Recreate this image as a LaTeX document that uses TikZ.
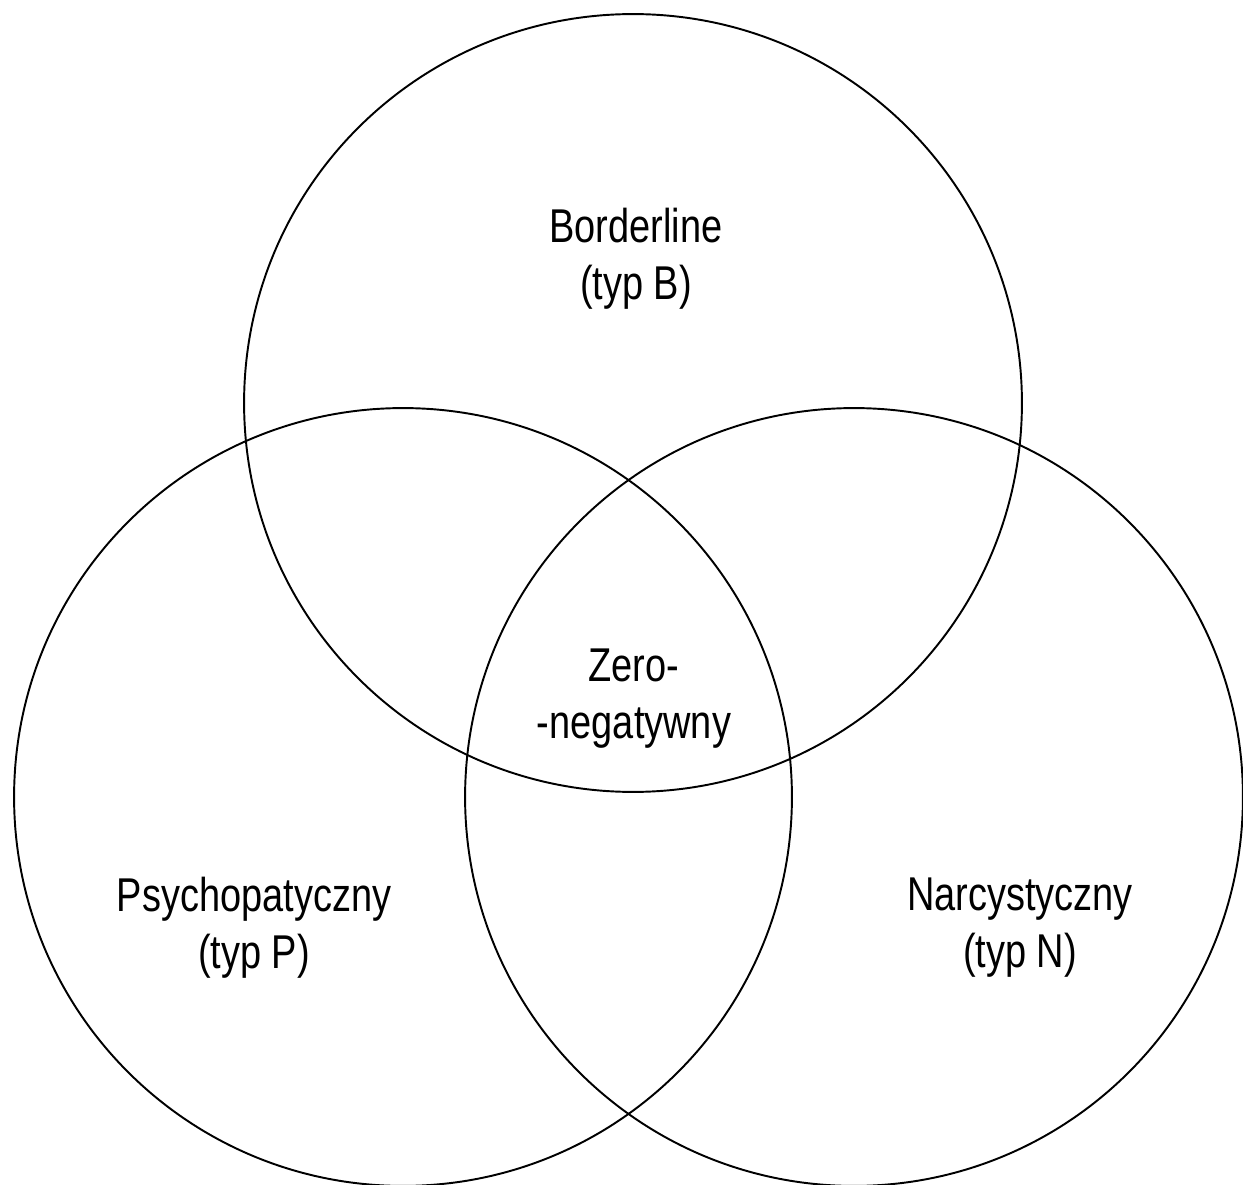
\documentclass[tikz,border=0pt]{standalone}
\usepackage{fontspec}
\setmainfont{Liberation Sans}[FakeStretch=0.8]
\usepackage{tikz}

\begin{document}
\begin{tikzpicture}[x=0.02cm,y=-0.02cm]
    \tikzstyle{set circle}=[circle,draw,line width=1.1pt,minimum size=15.56cm,inner sep=0]
    \tikzstyle{set label}=[align=center,font=\fontsize{27}{32.5}\selectfont]
    \useasboundingbox (0,0) rectangle (1243,1185);
    % the three sets
    \node(circB)[set circle] at (633,403){};
    \node(circP)[set circle] at (403,797){};
    \node(circN)[set circle] at (854,797){};
    % labels
    \node(labB)[set label] at (636,259){Borderline\\(typ B)};
    \node(labZ)[set label] at (634,699){Zero-\\-negatywny};
    \node(labP)[set label] at (254,928){Psychopatyczny\\(typ P)};
    \node(labN)[set label] at (1020,928){Narcystyczny\\(typ N)};
\end{tikzpicture}
\end{document}
